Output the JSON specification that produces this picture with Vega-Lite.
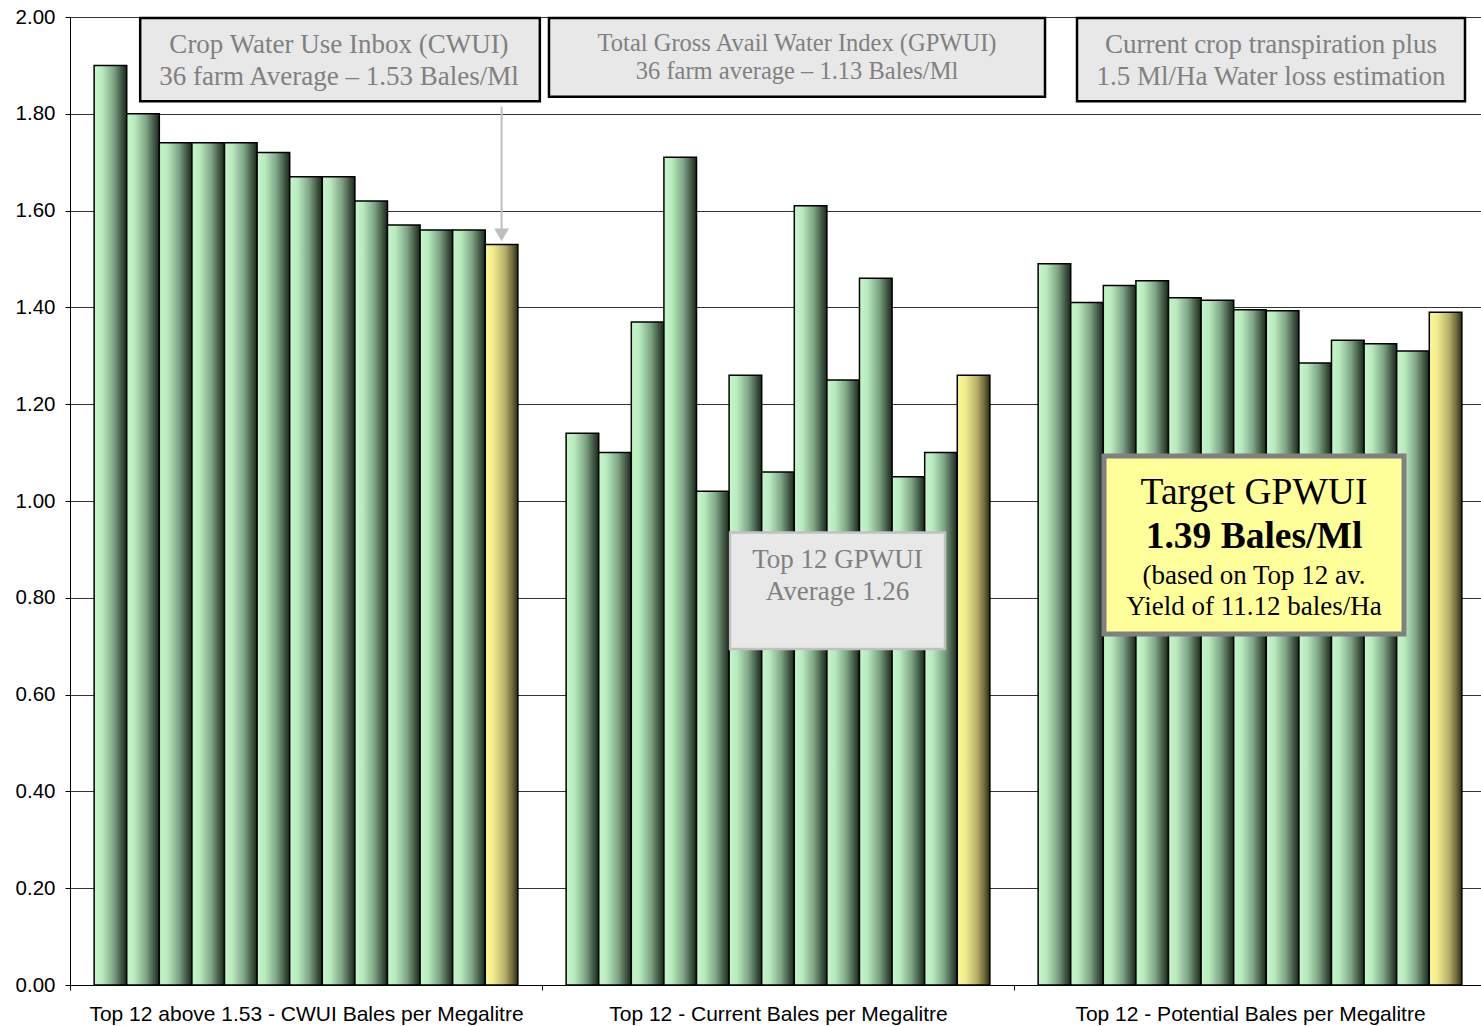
{
  "$schema": "https://vega.github.io/schema/vega-lite/v6.json",
  "width": 1411,
  "height": 968,
  "autosize": {"type": "none"},
  "padding": {"left": 70, "top": 17, "right": 0, "bottom": 41},
  "background": "white",
  "config": {"view": {"stroke": null}, "font": "Liberation Sans"},
  "datasets": {
    "farms": [
      {"group": "Top 12 above 1.53 - CWUI Bales per Megalitre", "idx": 1, "value": 1.90},
      {"group": "Top 12 above 1.53 - CWUI Bales per Megalitre", "idx": 2, "value": 1.80},
      {"group": "Top 12 above 1.53 - CWUI Bales per Megalitre", "idx": 3, "value": 1.74},
      {"group": "Top 12 above 1.53 - CWUI Bales per Megalitre", "idx": 4, "value": 1.74},
      {"group": "Top 12 above 1.53 - CWUI Bales per Megalitre", "idx": 5, "value": 1.74},
      {"group": "Top 12 above 1.53 - CWUI Bales per Megalitre", "idx": 6, "value": 1.72},
      {"group": "Top 12 above 1.53 - CWUI Bales per Megalitre", "idx": 7, "value": 1.67},
      {"group": "Top 12 above 1.53 - CWUI Bales per Megalitre", "idx": 8, "value": 1.67},
      {"group": "Top 12 above 1.53 - CWUI Bales per Megalitre", "idx": 9, "value": 1.62},
      {"group": "Top 12 above 1.53 - CWUI Bales per Megalitre", "idx": 10, "value": 1.57},
      {"group": "Top 12 above 1.53 - CWUI Bales per Megalitre", "idx": 11, "value": 1.56},
      {"group": "Top 12 above 1.53 - CWUI Bales per Megalitre", "idx": 12, "value": 1.56},
      {"group": "Top 12 - Current Bales per Megalitre", "idx": 1, "value": 1.14},
      {"group": "Top 12 - Current Bales per Megalitre", "idx": 2, "value": 1.10},
      {"group": "Top 12 - Current Bales per Megalitre", "idx": 3, "value": 1.37},
      {"group": "Top 12 - Current Bales per Megalitre", "idx": 4, "value": 1.71},
      {"group": "Top 12 - Current Bales per Megalitre", "idx": 5, "value": 1.02},
      {"group": "Top 12 - Current Bales per Megalitre", "idx": 6, "value": 1.26},
      {"group": "Top 12 - Current Bales per Megalitre", "idx": 7, "value": 1.06},
      {"group": "Top 12 - Current Bales per Megalitre", "idx": 8, "value": 1.61},
      {"group": "Top 12 - Current Bales per Megalitre", "idx": 9, "value": 1.25},
      {"group": "Top 12 - Current Bales per Megalitre", "idx": 10, "value": 1.46},
      {"group": "Top 12 - Current Bales per Megalitre", "idx": 11, "value": 1.05},
      {"group": "Top 12 - Current Bales per Megalitre", "idx": 12, "value": 1.10},
      {"group": "Top 12 - Potential Bales per Megalitre", "idx": 1, "value": 1.49},
      {"group": "Top 12 - Potential Bales per Megalitre", "idx": 2, "value": 1.41},
      {"group": "Top 12 - Potential Bales per Megalitre", "idx": 3, "value": 1.445},
      {"group": "Top 12 - Potential Bales per Megalitre", "idx": 4, "value": 1.455},
      {"group": "Top 12 - Potential Bales per Megalitre", "idx": 5, "value": 1.42},
      {"group": "Top 12 - Potential Bales per Megalitre", "idx": 6, "value": 1.415},
      {"group": "Top 12 - Potential Bales per Megalitre", "idx": 7, "value": 1.395},
      {"group": "Top 12 - Potential Bales per Megalitre", "idx": 8, "value": 1.393},
      {"group": "Top 12 - Potential Bales per Megalitre", "idx": 9, "value": 1.285},
      {"group": "Top 12 - Potential Bales per Megalitre", "idx": 10, "value": 1.332},
      {"group": "Top 12 - Potential Bales per Megalitre", "idx": 11, "value": 1.325},
      {"group": "Top 12 - Potential Bales per Megalitre", "idx": 12, "value": 1.31}
    ],
    "averages": [
      {"group": "Top 12 above 1.53 - CWUI Bales per Megalitre", "idx": 13, "value": 1.53},
      {"group": "Top 12 - Current Bales per Megalitre", "idx": 13, "value": 1.26},
      {"group": "Top 12 - Potential Bales per Megalitre", "idx": 13, "value": 1.39}
    ],
    "arrow": [
      {"group": "Top 12 above 1.53 - CWUI Bales per Megalitre", "idx": 13, "from": 1.815, "to": 1.56, "head": 1.55}
    ],
    "topBoxes": [
      {"x": 0.1487, "x2": 0.9954, "y": 1.998, "y2": 1.826},
      {"x": 1.0148, "x2": 2.0657, "y": 1.998, "y2": 1.835},
      {"x": 2.1335, "x2": 2.9555, "y": 1.998, "y2": 1.826}
    ],
    "avgBox": [
      {"x": 1.3983, "x2": 1.8538, "y": 0.935, "y2": 0.694}
    ],
    "targetBox": [
      {"x": 2.1907, "x2": 2.8263, "y": 1.093, "y2": 0.725}
    ],
    "grayText": [
      {"x": 0.5699, "y": 1.942, "text": "Crop Water Use Inbox (CWUI)"},
      {"x": 0.5699, "y": 1.876, "text": "36 farm Average – 1.53 Bales/Ml"},
      {"x": 2.5445, "y": 1.942, "text": "Current crop transpiration plus"},
      {"x": 2.5445, "y": 1.876, "text": "1.5 Ml/Ha Water loss estimation"},
      {"x": 1.6261, "y": 0.878, "text": "Top 12 GPWUI"},
      {"x": 1.6261, "y": 0.812, "text": "Average 1.26"}
    ],
    "grayTextSmall": [
      {"x": 1.5403, "y": 1.944, "text": "Total Gross Avail Water Index (GPWUI)"},
      {"x": 1.5403, "y": 1.886, "text": "36 farm average – 1.13 Bales/Ml"}
    ],
    "targetTitle": [
      {"x": 2.5085, "y": 1.0165, "text": "Target GPWUI"}
    ],
    "targetValue": [
      {"x": 2.5085, "y": 0.9256, "text": "1.39 Bales/Ml"}
    ],
    "targetNote": [
      {"x": 2.5085, "y": 0.845, "text": "(based on Top 12 av."},
      {"x": 2.5085, "y": 0.781, "text": "Yield of 11.12 bales/Ha"}
    ]
  },
  "layer": [
    {
      "encoding": {
        "x": {
          "field": "group",
          "type": "nominal",
          "scale": {
            "domain": ["Top 12 above 1.53 - CWUI Bales per Megalitre", "Top 12 - Current Bales per Megalitre", "Top 12 - Potential Bales per Megalitre"],
            "paddingInner": 0,
            "paddingOuter": 0,
            "range": [0, 1416]
          },
          "axis": {
            "title": null,
            "labelAngle": 0,
            "tickBand": "extent",
            "tickSize": 5,
            "tickColor": "#000000",
            "domainColor": "#000000",
            "domainWidth": 1,
            "labelColor": "#000000",
            "labelFont": "Liberation Sans",
            "labelFontSize": 21,
            "labelPadding": 13,
            "labelLimit": 700,
            "grid": false
          }
        },
        "xOffset": {
          "field": "idx",
          "type": "ordinal",
          "scale": {"domain": [1, 2, 3, 4, 5, 6, 7, 8, 9, 10, 11, 12, 13], "paddingInner": 0, "paddingOuter": 0.74}
        },
        "y": {
          "field": "value",
          "type": "quantitative",
          "title": null,
          "scale": {"domain": [0, 2], "nice": false, "zero": true},
          "axis": {
            "title": null,
            "values": [0, 0.2, 0.4, 0.6, 0.8, 1.0, 1.2, 1.4, 1.6, 1.8, 2.0],
            "format": ".2f",
            "grid": true,
            "gridColor": "#333333",
            "gridWidth": 1,
            "gridOpacity": 1,
            "domainColor": "#000000",
            "tickColor": "#000000",
            "tickSize": 5,
            "labelColor": "#000000",
            "labelFont": "Liberation Sans",
            "labelFontSize": 20.5,
            "labelPadding": 10
          }
        }
      },
      "layer": [
        {
          "data": {"name": "farms"},
          "mark": {
            "type": "bar",
            "stroke": "#000000",
            "strokeWidth": 1.5,
            "fill": {
              "gradient": "linear", "x1": 0, "y1": 0, "x2": 1, "y2": 0,
              "stops": [
                {"offset": 0, "color": "#c6f7ca"},
                {"offset": 0.25, "color": "#b8eabd"},
                {"offset": 0.6, "color": "#7ea385"},
                {"offset": 0.85, "color": "#3d5541"},
                {"offset": 1, "color": "#1c271e"}
              ]
            }
          }
        },
        {
          "data": {"name": "averages"},
          "mark": {
            "type": "bar",
            "stroke": "#000000",
            "strokeWidth": 1.5,
            "fill": {
              "gradient": "linear", "x1": 0, "y1": 0, "x2": 1, "y2": 0,
              "stops": [
                {"offset": 0, "color": "#fbf895"},
                {"offset": 0.25, "color": "#f0ec8d"},
                {"offset": 0.6, "color": "#b6b06a"},
                {"offset": 0.85, "color": "#6a6538"},
                {"offset": 1, "color": "#2c2a14"}
              ]
            }
          }
        },
        {
          "data": {"name": "arrow"},
          "mark": {"type": "rule", "color": "#bfbfbf", "strokeWidth": 2},
          "encoding": {
            "y": {"field": "from", "type": "quantitative", "title": null},
            "y2": {"field": "to"}
          }
        },
        {
          "data": {"name": "arrow"},
          "mark": {"type": "point", "shape": "triangle-down", "filled": true, "color": "#bfbfbf", "opacity": 1, "size": 220},
          "encoding": {
            "y": {"field": "head", "type": "quantitative", "title": null}
          }
        }
      ]
    },
    {
      "encoding": {
        "x": {
          "field": "x",
          "type": "quantitative",
          "scale": {"domain": [0, 3], "range": [0, 1416], "nice": false, "zero": false},
          "axis": null
        },
        "y": {"field": "y", "type": "quantitative", "title": null}
      },
      "layer": [
        {
          "data": {"name": "topBoxes"},
          "mark": {"type": "rect", "fill": "#e8e8e8", "stroke": "#000000", "strokeWidth": 2.5},
          "encoding": {"x2": {"field": "x2"}, "y2": {"field": "y2"}}
        },
        {
          "data": {"name": "avgBox"},
          "mark": {"type": "rect", "fill": "#e8e8e8", "stroke": "#c0c0c0", "strokeWidth": 2.5},
          "encoding": {"x2": {"field": "x2"}, "y2": {"field": "y2"}}
        },
        {
          "data": {"name": "targetBox"},
          "mark": {"type": "rect", "fill": "#ffff99", "stroke": "#808080", "strokeWidth": 5},
          "encoding": {"x2": {"field": "x2"}, "y2": {"field": "y2"}}
        },
        {
          "data": {"name": "grayText"},
          "mark": {"type": "text", "font": "Liberation Serif", "fontSize": 27, "color": "#808080", "align": "center", "baseline": "middle"},
          "encoding": {"text": {"field": "text"}}
        },
        {
          "data": {"name": "grayTextSmall"},
          "mark": {"type": "text", "font": "Liberation Serif", "fontSize": 24.5, "color": "#808080", "align": "center", "baseline": "middle"},
          "encoding": {"text": {"field": "text"}}
        },
        {
          "data": {"name": "targetTitle"},
          "mark": {"type": "text", "font": "Liberation Serif", "fontSize": 37.5, "color": "#000000", "align": "center", "baseline": "middle"},
          "encoding": {"text": {"field": "text"}}
        },
        {
          "data": {"name": "targetValue"},
          "mark": {"type": "text", "font": "Liberation Serif", "fontSize": 37.5, "fontWeight": "bold", "color": "#000000", "align": "center", "baseline": "middle"},
          "encoding": {"text": {"field": "text"}}
        },
        {
          "data": {"name": "targetNote"},
          "mark": {"type": "text", "font": "Liberation Serif", "fontSize": 27, "color": "#000000", "align": "center", "baseline": "middle"},
          "encoding": {"text": {"field": "text"}}
        }
      ]
    }
  ],
  "resolve": {"scale": {"x": "independent"}}
}
